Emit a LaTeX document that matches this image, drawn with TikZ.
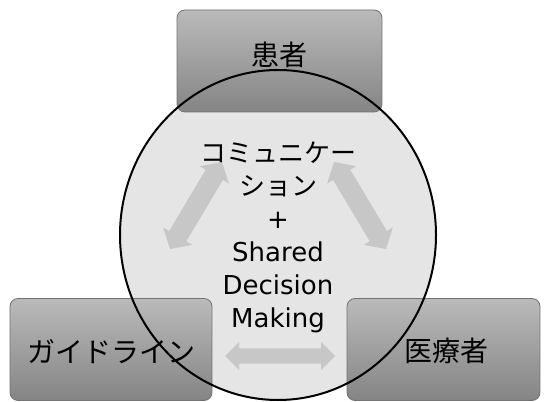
\documentclass[tikz,border=0pt]{standalone}
\usepackage{fontspec}
\setmainfont{DejaVu Sans}
\newfontfamily\jp{Noto Sans CJK JP}
\usetikzlibrary{shapes.geometric,calc}
\tikzset{
  boxstyle/.style={rounded corners=8pt, draw=black!55, line width=0.8pt,
    top color=black!27, bottom color=black!48, minimum height=102pt},
  boxlabel/.style={font=\jp\fontsize{28}{34}\selectfont, text=black, inner sep=0pt},
  circfill/.style={ellipse, fill=black!10, minimum width=316pt, minimum height=330pt, inner sep=0pt},
  circtext/.style={align=center, font=\fontsize{26}{33}\selectfont, inner sep=0pt},
  arrowfill/.style={fill=black!22},
}
\newcommand{\dblarr}[5]{%
  \coordinate (#1h) at ($(#1)!#5!(#2)$);
  \coordinate (#2h) at ($(#2)!#5!(#1)$);
  \fill[arrowfill] (#1) -- ($(#1h)!#4!90:(#2)$) -- ($(#1h)!#3!90:(#2)$)
    -- ($(#2h)!#3!-90:(#1)$) -- ($(#2h)!#4!-90:(#1)$) -- (#2)
    -- ($(#2h)!#4!90:(#1)$) -- ($(#2h)!#3!90:(#1)$)
    -- ($(#1h)!#3!-90:(#2)$) -- ($(#1h)!#4!-90:(#2)$) -- cycle;}
\begin{document}
\begin{tikzpicture}[x=1pt,y=1pt]
\useasboundingbox (0,0) rectangle (545,401);
\fill[white] (0,0) rectangle (545,401);
% circle fill
\node[circfill] (circ) at (278,166) {};
% boxes
\node[boxstyle, minimum width=205pt] (patient) at (279.5,340) {};
\node[boxstyle, minimum width=202pt] (guide) at (111,51.5) {};
\node[boxstyle, minimum width=193pt] (doctor) at (443.5,51.5) {};
\node[boxlabel] (patientlbl) at (279.5,346) {患者};
\node[boxlabel] (guidelbl) at (111,49) {ガイドライン};
\node[boxlabel] (doctorlbl) at (446.5,50) {医療者};
% circle outline
\draw[line width=2pt] (circ.center) ellipse [x radius=158, y radius=165];
% arrows
\coordinate (al) at (170,152);
\coordinate (bl) at (222,239);
\coordinate (ar) at (386,152);
\coordinate (br) at (334,239);
\coordinate (ab) at (225,45);
\coordinate (bb) at (335,45);
\dblarr{al}{bl}{10pt}{17pt}{15pt}
\dblarr{ar}{br}{10pt}{17pt}{15pt}
\dblarr{ab}{bb}{7.5pt}{14pt}{14pt}
% circle text
\node[circtext] (ctext) at (278,164) {{\jp コミュニケー}\\{\jp ション}\\+\\Shared\\Decision\\Making};
\end{tikzpicture}
\end{document}
